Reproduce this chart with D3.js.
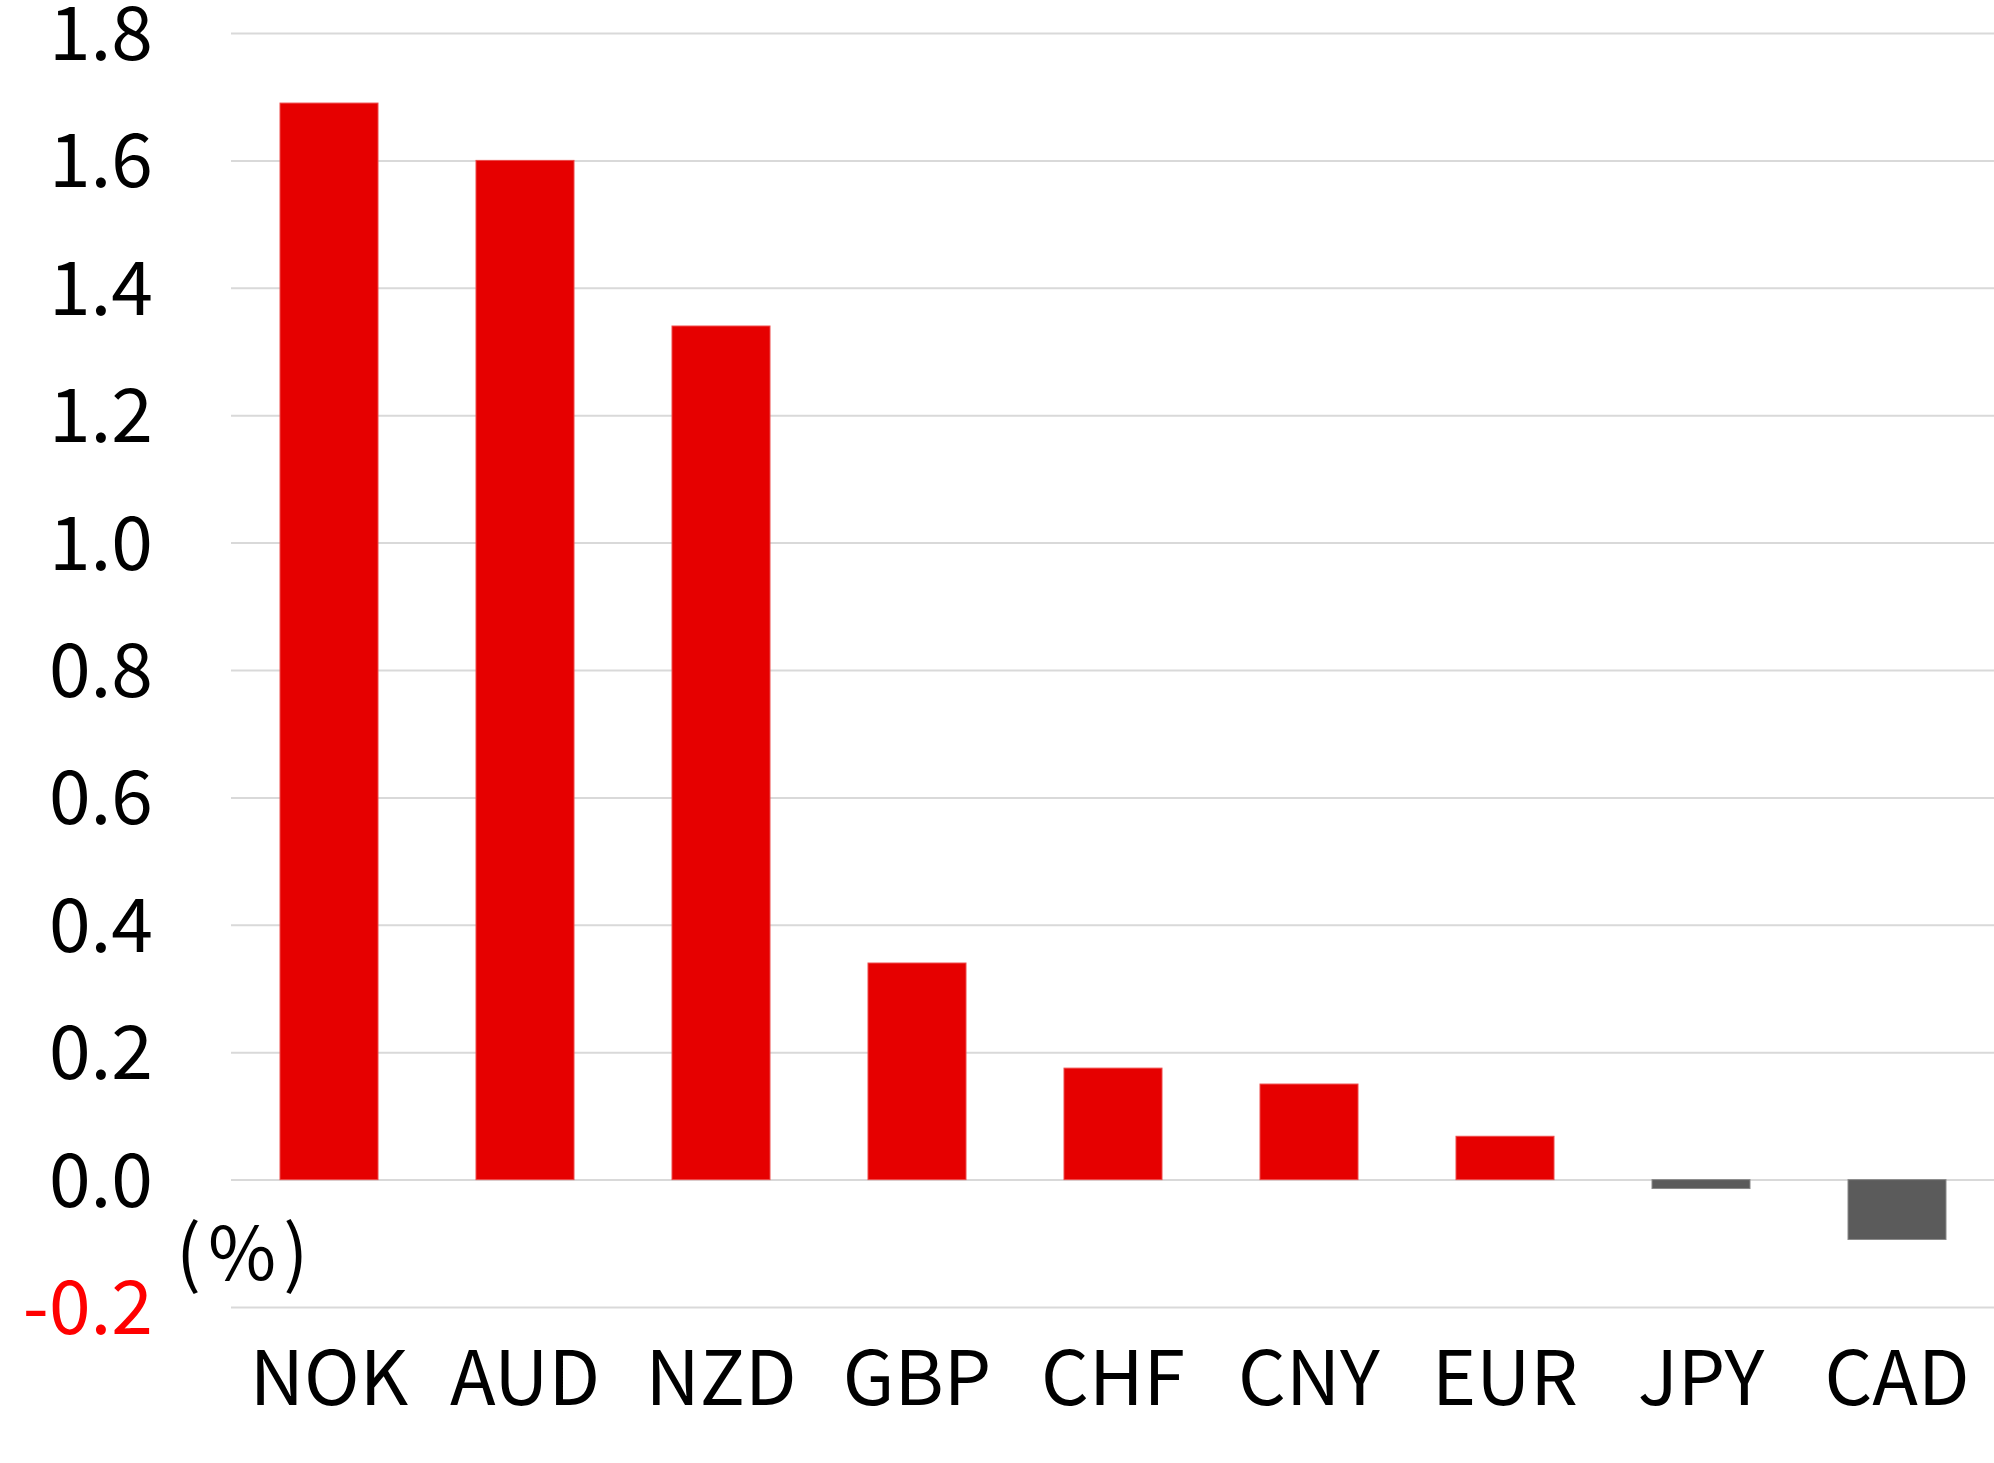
<!DOCTYPE html>
<meta charset="utf-8">
<style>
body { margin: 0; background: #fff; }
text { font-family: "Noto Sans CJK JP", "Noto Sans", sans-serif; }
.grid line { stroke: #d9d9d9; stroke-width: 2px; }
.grid .domain { display: none; }
</style>
<svg width="1994" height="1463"></svg>
<script src="https://d3js.org/d3.v7.min.js"></script>
<script>

var currencies = ["NOK", "AUD", "NZD", "GBP", "CHF", "CNY", "EUR", "JPY", "CAD"];
var changes = [1.69, 1.60, 1.34, 0.34, 0.175, 0.15, 0.068, -0.014, -0.094];
var yTicks = [-0.2, 0, 0.2, 0.4, 0.6, 0.8, 1.0, 1.2, 1.4, 1.6, 1.8];
var unitLabel = "(%)";

var svg = d3.select("svg");

var x = d3.scaleBand()
    .domain(currencies)
    .range([231, 1995])
    .paddingInner(0.5)
    .paddingOuter(0.25);

var y = d3.scaleLinear()
    .domain([-0.2, 1.8])
    .range([1307, 33]);

// gridlines
svg.append("g")
    .attr("class", "grid")
    .attr("transform", "translate(231,0)")
    .call(d3.axisLeft(y).tickValues(yTicks).tickSize(-1763).tickFormat(""));

// bars
svg.append("g")
    .selectAll("rect")
    .data(currencies)
    .enter().append("rect")
    .attr("x", function(d) { return x(d); })
    .attr("width", x.bandwidth())
    .attr("y", function(d, i) { return y(Math.max(0, changes[i])); })
    .attr("height", function(d, i) { return Math.abs(y(changes[i]) - y(0)); })
    .attr("fill", function(d, i) { return changes[i] >= 0 ? "#e60000" : "#5b5b5b"; })
    .attr("stroke", function(d, i) { return changes[i] >= 0 ? "#ee4a4a" : "#8a8a8a"; })
    .attr("stroke-width", 1);

// y tick labels (plain hyphen for negatives, like the original)
var fmt = d3.format(".1f");
svg.append("g")
    .selectAll("text")
    .data(yTicks)
    .enter().append("text")
    .attr("x", 153)
    .attr("y", function(d) { return y(d); })
    .attr("dy", "0.36em")
    .attr("text-anchor", "end")
    .attr("font-size", 75)
    .attr("fill", function(d) { return d < 0 ? "#ff0000" : "#000"; })
    .text(function(d) { return fmt(d).replace("\u2212", "-"); });

// x labels
svg.append("g")
    .selectAll("text")
    .data(currencies)
    .enter().append("text")
    .attr("x", function(d) { return x(d) + x.bandwidth() / 2; })
    .attr("y", 1405)
    .attr("text-anchor", "middle")
    .attr("font-size", 75)
    .attr("fill", "#000")
    .text(function(d) { return d; });

svg.append("text")
    .attr("x", 176)
    .attr("y", 1280)
    .attr("font-size", 74)
    .attr("letter-spacing", 7)
    .attr("fill", "#000")
    .text(unitLabel);

</script>
